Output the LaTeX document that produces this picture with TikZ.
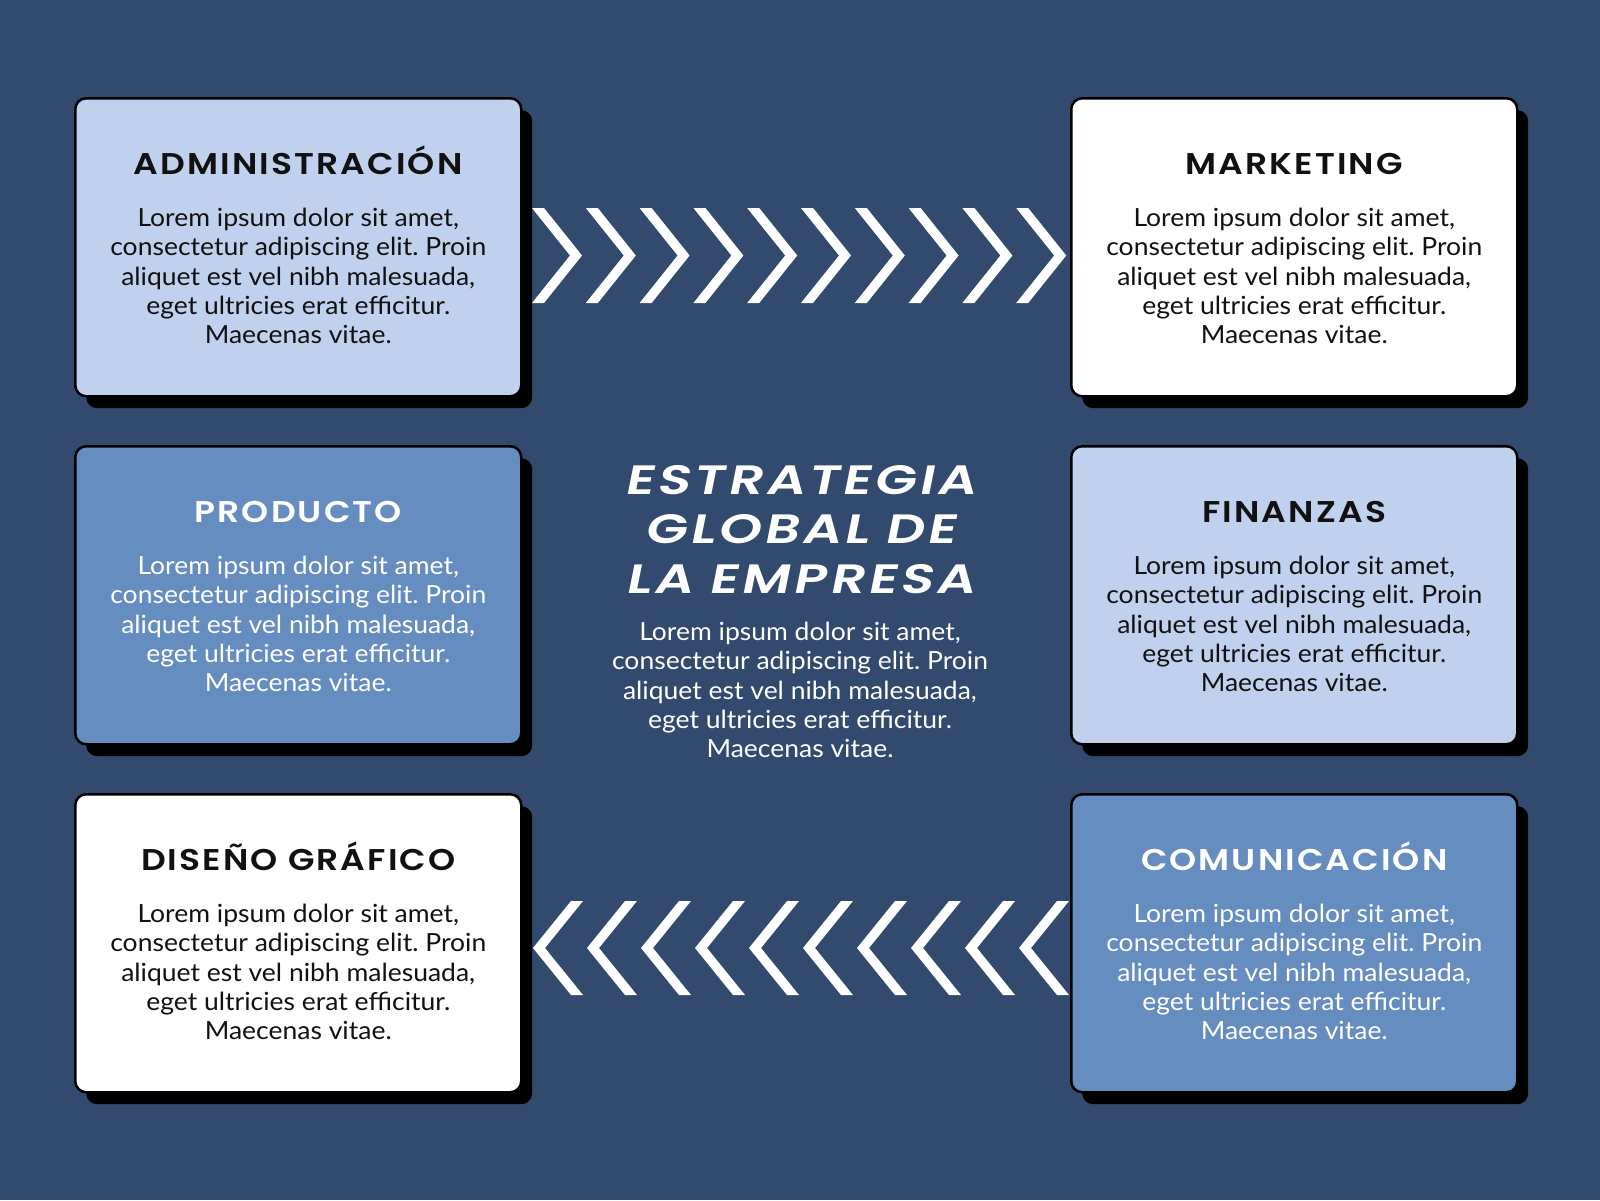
\documentclass[tikz,border=0pt]{standalone}
\usepackage{fontspec}
\setmainfont{Lato}[FakeStretch=1.06]
\IfFontExistsTF{Poppins SemiBold}{%
  \newfontfamily\headfont{Poppins SemiBold}[FakeStretch=1.15,LetterSpace=7]
  \newfontfamily\bigfont{Poppins SemiBold}[FakeStretch=1.32,FakeSlant=0.2,LetterSpace=8]
}{%
  \newfontfamily\headfont{Poppins}[FakeStretch=1.15,LetterSpace=6,UprightFont=*,BoldFont=*]
  \newfontfamily\bigfont{Poppins}[FakeStretch=1.32,FakeSlant=0.2,LetterSpace=8]
}
\usetikzlibrary{calc}
\definecolor{bg}{RGB}{49,74,110}
\definecolor{lightblue}{RGB}{192,209,238}
\definecolor{midblue}{RGB}{102,141,192}
\definecolor{ink}{RGB}{17,17,17}
\newcommand{\loremtext}{\rule{0pt}{20pt}Lorem ipsum dolor sit amet,\\consectetur adipiscing elit. Proin\\aliquet est vel nibh malesuada,\\eget ultricies erat efficitur.\\Maecenas vitae.}
\tikzset{
  card/.style={draw=black, line width=2.5pt, rounded corners=11pt, minimum width=446pt, minimum height=298pt, inner sep=0, anchor=north west},
  shadowbox/.style={fill=black, rounded corners=11pt, minimum width=446pt, minimum height=298pt, inner sep=0, anchor=north west},
  cardtitle/.style={font=\headfont\fontsize{30}{30}\selectfont, anchor=base, inner sep=0},
  cardbody/.style={font=\frenchspacing\fontsize{25}{29.4}\selectfont, align=center, anchor=north, inner sep=0},
  chev/.style={fill=white}
}
\newcommand{\mycard}[6]{%
  \node[shadowbox] (#1s) at ({#2+12},{#3+13}) {};
  \node[card, fill=#4] (#1) at (#2,#3) {};
  \node[cardtitle, text=#5] (#1t) at ($(#1.north)+(0,77)$) {#6};
  \node[cardbody, text=#5] (#1b) at ($(#1.north)+(0,109)$) {\loremtext};
}
\begin{document}
\begin{tikzpicture}[x=1pt,y=-1pt]
  \fill[bg] (0,0) rectangle (1600,1200);
  \useasboundingbox (0,0) rectangle (1600,1200);
  % right-pointing chevrons
  \foreach \i in {0,...,9}{
    \pgfmathsetmacro{\L}{532+53.8*\i}
    \fill[chev] (\L,208) -- ({\L+12},208) -- ({\L+50},255.5) -- ({\L+12},303) -- (\L,303) -- ({\L+38},255.5) -- cycle;
  }
  % left-pointing chevrons
  \foreach \i in {0,...,9}{
    \pgfmathsetmacro{\T}{533+54*\i}
    \fill[chev] ({\T+50},901) -- ({\T+38},901) -- (\T,948) -- ({\T+38},995) -- ({\T+50},995) -- ({\T+12},948) -- cycle;
  }
  \mycard{adm}{74}{97}{lightblue}{ink}{ADMINISTRACIÓN}
  \mycard{mkt}{1070}{97}{white}{ink}{MARKETING}
  \mycard{prd}{74}{445}{midblue}{white}{PRODUCTO}
  \mycard{fin}{1070}{445}{lightblue}{ink}{FINANZAS}
  \mycard{dis}{74}{793}{white}{ink}{DISEÑO GRÁFICO}
  \mycard{com}{1070}{793}{midblue}{white}{COMUNICACIÓN}
  % centre
  \node[font=\bigfont\fontsize{41}{49.5}\selectfont, text=white, align=center, anchor=north, inner sep=0] (ctitle) at (800,462) {\rule{0pt}{32pt}ESTRATEGIA\\GLOBAL DE\\LA EMPRESA};
  \node[font=\frenchspacing\fontsize{25}{29.4}\selectfont, text=white, align=center, anchor=north, inner sep=0] (cbody) at (800,620) {\loremtext};
\end{tikzpicture}
\end{document}
